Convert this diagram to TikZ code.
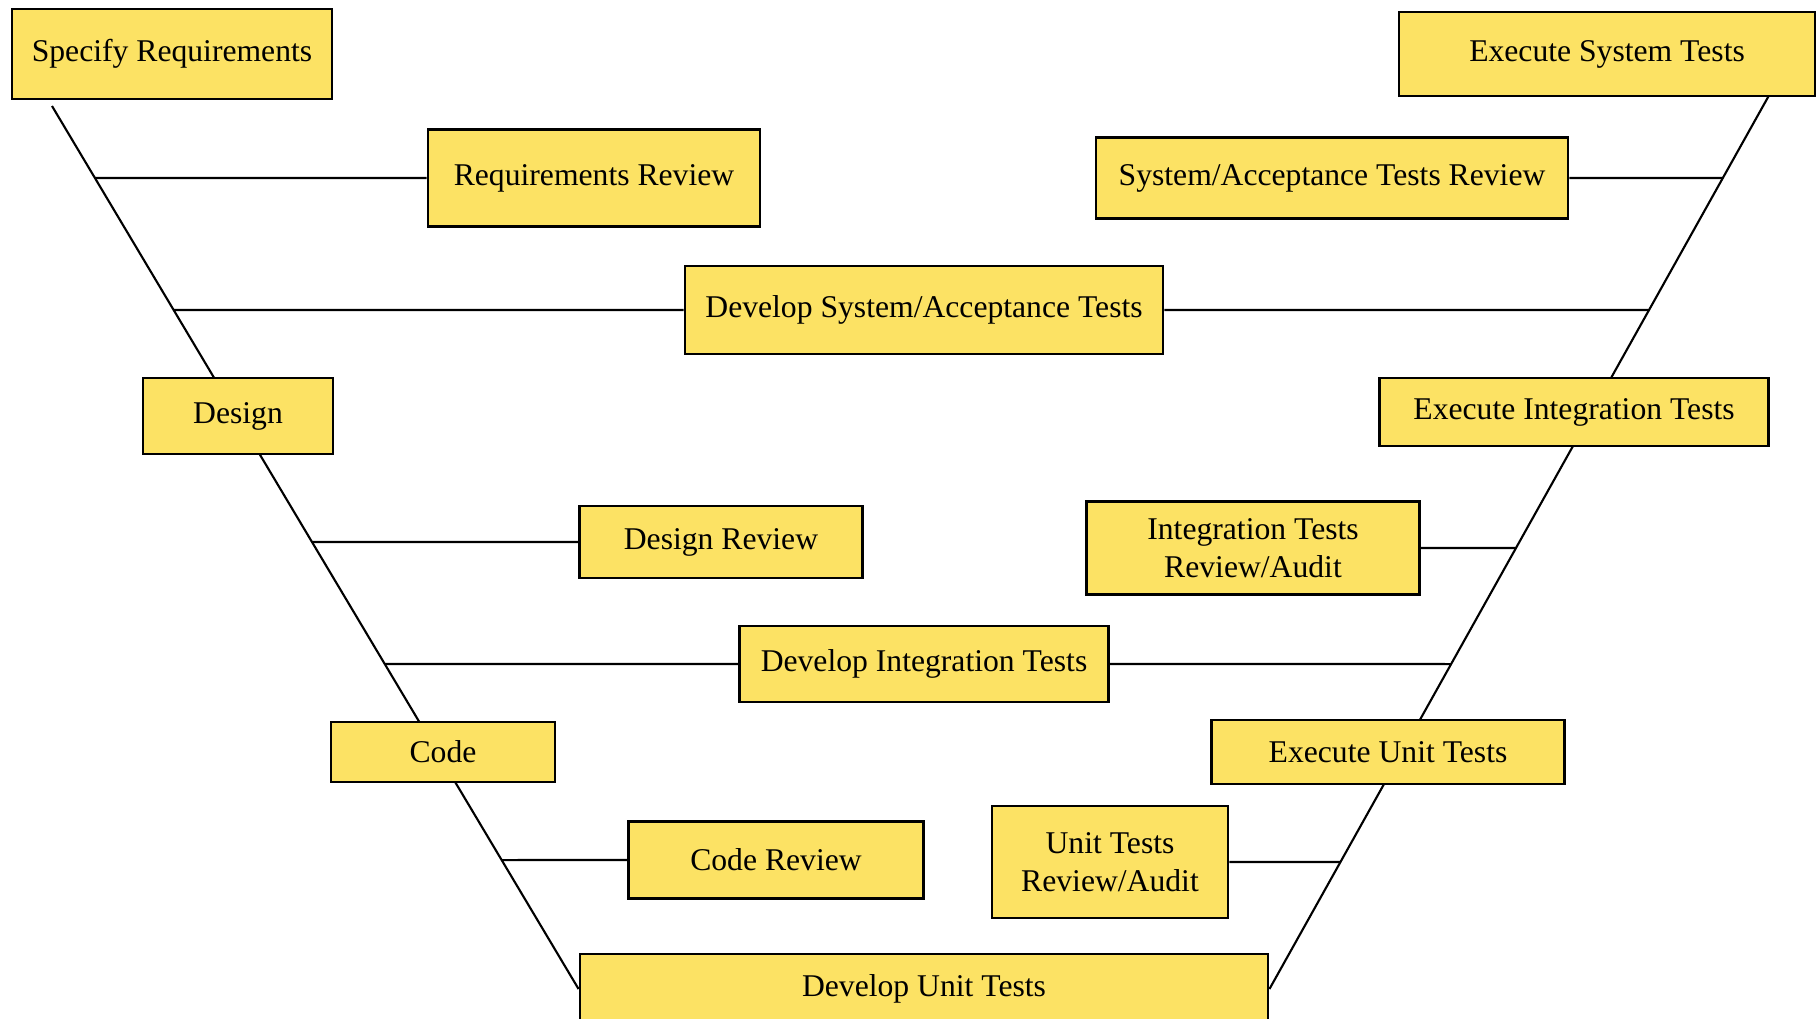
\documentclass[tikz,border=0pt]{standalone}
\usepackage{fontspec}
\setmainfont{Liberation Serif}
\usetikzlibrary{backgrounds}
\definecolor{vyellow}{RGB}{252,226,100}

\begin{document}
\begin{tikzpicture}[x=0.01cm,y=-0.01cm,
  stage/.style={draw,fill=vyellow,line width=0.7pt,inner sep=0pt,align=center,
    font=\fontsize{9}{10.8}\selectfont},
  link/.style={line width=0.6pt}]
  \useasboundingbox (0,0) rectangle (1816,1018);

  % left leg
  \node[stage,minimum width=32mm,minimum height=9mm](spec) at (172,54) {Specify Requirements};
  \node[stage,minimum width=33.2mm,minimum height=9.7mm](reqrev) at (594,178) {Requirements Review};
  \node[stage,minimum width=47.8mm,minimum height=8.8mm](devsys) at (924,310) {Develop System/Acceptance Tests};
  \node[stage,minimum width=19mm,minimum height=7.6mm](design) at (238,416) {Design};
  \node[stage,minimum width=28.3mm,minimum height=7.2mm](desrev) at (721,542) {Design Review};
  \node[stage,minimum width=36.9mm,minimum height=7.6mm](devint) at (924,664) {Develop Integration Tests};
  \node[stage,minimum width=22.4mm,minimum height=6mm](code) at (443,752) {Code};
  \node[stage,minimum width=29.5mm,minimum height=7.7mm](coderev) at (776,860) {Code Review};
  \node[stage,minimum width=68.8mm,minimum height=7mm](devunit) at (924,989) {Develop Unit Tests};

  % right leg
  \node[stage,minimum width=41.6mm,minimum height=8.4mm](exsys) at (1607,54) {Execute System Tests};
  \node[stage,minimum width=47.2mm,minimum height=8.1mm](sysrev) at (1332,178) {System/Acceptance Tests Review};
  \node[stage,minimum width=38.9mm,minimum height=6.8mm](exint) at (1574,412) {Execute Integration Tests};
  \node[stage,minimum width=33.3mm,minimum height=9.3mm](intrev) at (1253,548) {Integration Tests\\Review/Audit};
  \node[stage,minimum width=35.3mm,minimum height=6.4mm](exunit) at (1388,752) {Execute Unit Tests};
  \node[stage,minimum width=23.6mm,minimum height=11.2mm](unitrev) at (1110,862) {Unit Tests\\Review/Audit};

  \coordinate (vtl) at (52,106);
  \coordinate (vtr) at (1772,90);
  \coordinate (vbl) at (devunit.west);
  \coordinate (vbr) at (devunit.east);

  \begin{pgfonlayer}{background}
    \draw[link] (vtl) -- (vbl);
    \draw[link] (vtr) -- (vbr);
  \end{pgfonlayer}

  \draw[link] (reqrev.west) -- (intersection of reqrev.west--reqrev.east and vtl--vbl);
  \draw[link] (devsys.west) -- (intersection of devsys.west--devsys.east and vtl--vbl);
  \draw[link] (desrev.west) -- (intersection of desrev.west--desrev.east and vtl--vbl);
  \draw[link] (devint.west) -- (intersection of devint.west--devint.east and vtl--vbl);
  \draw[link] (coderev.west) -- (intersection of coderev.west--coderev.east and vtl--vbl);

  \draw[link] (sysrev.east) -- (intersection of sysrev.west--sysrev.east and vtr--vbr);
  \draw[link] (devsys.east) -- (intersection of devsys.west--devsys.east and vtr--vbr);
  \draw[link] (intrev.east) -- (intersection of intrev.west--intrev.east and vtr--vbr);
  \draw[link] (devint.east) -- (intersection of devint.west--devint.east and vtr--vbr);
  \draw[link] (unitrev.east) -- (intersection of unitrev.west--unitrev.east and vtr--vbr);
\end{tikzpicture}
\end{document}
